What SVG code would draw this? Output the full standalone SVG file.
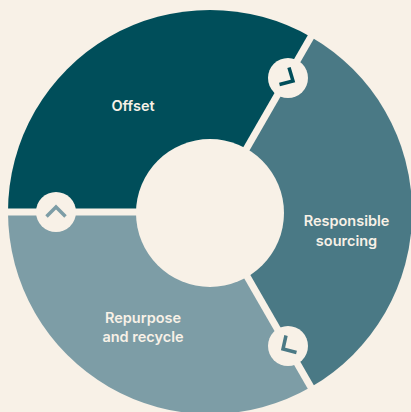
<svg xmlns="http://www.w3.org/2000/svg" width="411" height="412" viewBox="0 0 411 412">
<style>
.lbl{font-family:"Inter","Liberation Sans",sans-serif;font-size:14.5px;font-weight:600;fill:#f8f1e7;text-anchor:middle}
.gap{stroke:#f8f1e7;stroke-width:7;fill:none}
.badge{fill:#f8f1e7}
.chev{fill:none;stroke-width:3.5}
</style>
<rect width="411" height="412" fill="#f8f1e7"/>
<g id="offset">
<path d="M8 212A202 202 0 0 1 311 37L210 212Z" fill="#004e5a"/>
<text class="lbl" x="133" y="111">Offset</text>
</g>
<g id="responsible-sourcing">
<path d="M311 37A202 202 0 0 1 311 387L210 212Z" fill="#4a7985"/>
<text class="lbl" x="346.500" y="226">Responsible</text>
<text class="lbl" x="346.500" y="246">sourcing</text>
</g>
<g id="repurpose-and-recycle">
<path d="M311 387A202 202 0 0 1 8 212L210 212Z" fill="#7d9da6"/>
<text class="lbl" x="143" y="323">Repurpose</text>
<text class="lbl" x="143" y="342">and recycle</text>
</g>
<g id="connectors">
<path class="gap" d="M0 212H210"/>
<path class="gap" d="M210 212L316 28"/>
<path class="gap" d="M210 212L316 396"/>
</g>
<g id="hub"><circle cx="210" cy="213" r="74" fill="#f8f1e7"/></g>
<g id="badge-left">
<circle class="badge" cx="56" cy="212" r="20"/>
<path class="chev" stroke="#7d9da6" d="M46.500 216.500L56 207L65.500 216.500"/>
</g>
<g id="badge-top">
<circle class="badge" cx="288" cy="78" r="20"/>
<path class="chev" stroke="#004e5a" d="M289 67.500L293 81L279.500 84.500"/>
</g>
<g id="badge-bottom">
<circle class="badge" cx="288" cy="346" r="20"/>
<path class="chev" stroke="#4a7985" d="M286 335.500L283 349L296.500 352.500"/>
</g>
</svg>
